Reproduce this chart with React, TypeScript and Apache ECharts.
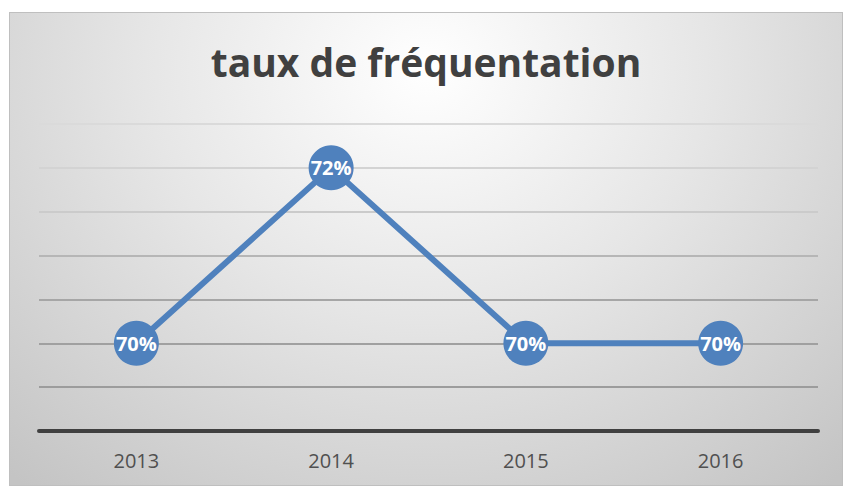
import React, { useEffect, useRef } from "react";
import * as echarts from "echarts";

const titleText = "taux de fréquentation";
const years = ["2013", "2014", "2015", "2016"];
const rates = [70, 72, 70, 70];
const yMin = 69;
const yMax = 72.5;
const yStep = 0.5;

export default function App() {
  const ref = useRef<HTMLDivElement>(null);
  useEffect(() => {
    if (!ref.current) return;
    const chart = echarts.init(ref.current, null, { renderer: "svg" });
    chart.setOption({
      animation: false,
      backgroundColor: "transparent",
      title: {
        text: titleText,
        left: "center",
        top: 24,
        textStyle: {
          fontFamily: "Open Sans",
          fontWeight: "bold",
          fontSize: 39,
          color: "#404040",
        },
      },
      grid: { left: 29, right: 24, top: 111, bottom: 54 },
      xAxis: {
        type: "category",
        data: years,
        boundaryGap: true,
        axisLine: { show: true, lineStyle: { color: "#404040", width: 4 } },
        axisTick: { show: false },
        axisLabel: {
          margin: 19,
          fontFamily: "Open Sans",
          fontSize: 20,
          color: "#505050",
        },
        splitLine: { show: false },
      },
      yAxis: {
        type: "value",
        min: yMin,
        max: yMax,
        interval: yStep,
        axisLine: { show: false },
        axisTick: { show: false },
        axisLabel: { show: false },
        splitLine: {
          show: true,
          lineStyle: {
            color: ["#999999", "#9c9c9c", "#a0a0a0", "#a6a6a6", "#b6b6b6", "#cbcbcb", "#d3d3d3", "#dadada"],
            width: 2,
          },
        },
      },
      series: [
        {
          type: "line",
          data: rates,
          lineStyle: { color: "#4f81bd", width: 6 },
          itemStyle: { color: "#4f81bd" },
          symbol: "circle",
          symbolSize: 45,
          label: {
            show: true,
            position: "inside",
            formatter: (p: any) => p.value + "%",
            color: "#ffffff",
            fontFamily: "Open Sans",
            fontWeight: "bold",
            fontSize: 20,
          },
        },
      ],
    });
    return () => chart.dispose();
  }, []);
  return (
    <div
      ref={ref}
      style={{
        position: "absolute",
        left: 9,
        top: 12,
        width: 834,
        height: 474,
        boxSizing: "border-box",
        border: "1px solid #bfbfbf",
        background:
          "radial-gradient(ellipse 75% 115% at 50% 12%, #ffffff 0%, #e6e6e6 45%, #c4c4c4 100%)",
      }}
    />
  );
}
